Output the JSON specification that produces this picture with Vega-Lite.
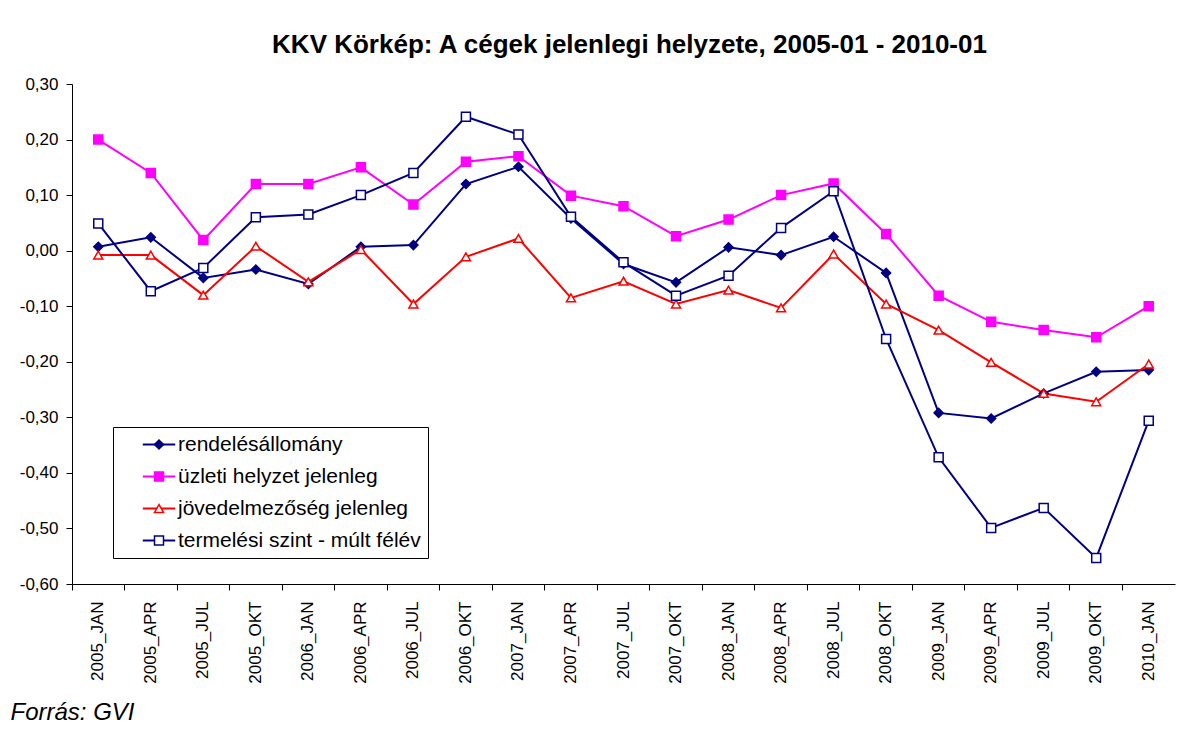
{
  "$schema": "https://vega.github.io/schema/vega-lite/v6.json",
  "width": 1103,
  "height": 500,
  "autosize": {"type": "none"},
  "padding": {"left": 72, "top": 84, "right": 21, "bottom": 147},
  "background": "white",
  "config": {
    "font": "Liberation Sans",
    "view": {"stroke": null},
    "locale": {"number": {"decimal": ",", "thousands": " ", "grouping": [3], "currency": ["", ""], "minus": "-"}}
  },
  "title": {
    "text": "KKV Körkép: A cégek jelenlegi helyzete, 2005-01 - 2010-01",
    "font": "Liberation Sans",
    "fontSize": 26,
    "fontWeight": "bold",
    "color": "black",
    "anchor": "middle",
    "dx": 6,
    "offset": 17
  },
  "data": {
    "values": [
      {"p": "2005_JAN", "s": "rendelésállomány", "v": 0.007},
      {"p": "2005_APR", "s": "rendelésállomány", "v": 0.024},
      {"p": "2005_JUL", "s": "rendelésállomány", "v": -0.049},
      {"p": "2005_OKT", "s": "rendelésállomány", "v": -0.034},
      {"p": "2006_JAN", "s": "rendelésállomány", "v": -0.060},
      {"p": "2006_APR", "s": "rendelésállomány", "v": 0.007},
      {"p": "2006_JUL", "s": "rendelésállomány", "v": 0.010},
      {"p": "2006_OKT", "s": "rendelésállomány", "v": 0.120},
      {"p": "2007_JAN", "s": "rendelésállomány", "v": 0.151},
      {"p": "2007_APR", "s": "rendelésállomány", "v": 0.058},
      {"p": "2007_JUL", "s": "rendelésállomány", "v": -0.024},
      {"p": "2007_OKT", "s": "rendelésállomány", "v": -0.057},
      {"p": "2008_JAN", "s": "rendelésállomány", "v": 0.006},
      {"p": "2008_APR", "s": "rendelésállomány", "v": -0.008},
      {"p": "2008_JUL", "s": "rendelésállomány", "v": 0.025},
      {"p": "2008_OKT", "s": "rendelésállomány", "v": -0.040},
      {"p": "2009_JAN", "s": "rendelésállomány", "v": -0.292},
      {"p": "2009_APR", "s": "rendelésállomány", "v": -0.302},
      {"p": "2009_JUL", "s": "rendelésállomány", "v": -0.257},
      {"p": "2009_OKT", "s": "rendelésállomány", "v": -0.218},
      {"p": "2010_JAN", "s": "rendelésállomány", "v": -0.215},
      {"p": "2005_JAN", "s": "üzleti helyzet jelenleg", "v": 0.200},
      {"p": "2005_APR", "s": "üzleti helyzet jelenleg", "v": 0.140},
      {"p": "2005_JUL", "s": "üzleti helyzet jelenleg", "v": 0.019},
      {"p": "2005_OKT", "s": "üzleti helyzet jelenleg", "v": 0.120},
      {"p": "2006_JAN", "s": "üzleti helyzet jelenleg", "v": 0.120},
      {"p": "2006_APR", "s": "üzleti helyzet jelenleg", "v": 0.150},
      {"p": "2006_JUL", "s": "üzleti helyzet jelenleg", "v": 0.083},
      {"p": "2006_OKT", "s": "üzleti helyzet jelenleg", "v": 0.160},
      {"p": "2007_JAN", "s": "üzleti helyzet jelenleg", "v": 0.170},
      {"p": "2007_APR", "s": "üzleti helyzet jelenleg", "v": 0.099},
      {"p": "2007_JUL", "s": "üzleti helyzet jelenleg", "v": 0.080},
      {"p": "2007_OKT", "s": "üzleti helyzet jelenleg", "v": 0.026},
      {"p": "2008_JAN", "s": "üzleti helyzet jelenleg", "v": 0.056},
      {"p": "2008_APR", "s": "üzleti helyzet jelenleg", "v": 0.100},
      {"p": "2008_JUL", "s": "üzleti helyzet jelenleg", "v": 0.121},
      {"p": "2008_OKT", "s": "üzleti helyzet jelenleg", "v": 0.030},
      {"p": "2009_JAN", "s": "üzleti helyzet jelenleg", "v": -0.081},
      {"p": "2009_APR", "s": "üzleti helyzet jelenleg", "v": -0.128},
      {"p": "2009_JUL", "s": "üzleti helyzet jelenleg", "v": -0.143},
      {"p": "2009_OKT", "s": "üzleti helyzet jelenleg", "v": -0.156},
      {"p": "2010_JAN", "s": "üzleti helyzet jelenleg", "v": -0.100},
      {"p": "2005_JAN", "s": "jövedelmezőség jelenleg", "v": -0.008},
      {"p": "2005_APR", "s": "jövedelmezőség jelenleg", "v": -0.008},
      {"p": "2005_JUL", "s": "jövedelmezőség jelenleg", "v": -0.080},
      {"p": "2005_OKT", "s": "jövedelmezőség jelenleg", "v": 0.008},
      {"p": "2006_JAN", "s": "jövedelmezőség jelenleg", "v": -0.056},
      {"p": "2006_APR", "s": "jövedelmezőség jelenleg", "v": 0.002},
      {"p": "2006_JUL", "s": "jövedelmezőség jelenleg", "v": -0.096},
      {"p": "2006_OKT", "s": "jövedelmezőség jelenleg", "v": -0.011},
      {"p": "2007_JAN", "s": "jövedelmezőség jelenleg", "v": 0.022},
      {"p": "2007_APR", "s": "jövedelmezőség jelenleg", "v": -0.085},
      {"p": "2007_JUL", "s": "jövedelmezőség jelenleg", "v": -0.055},
      {"p": "2007_OKT", "s": "jövedelmezőség jelenleg", "v": -0.096},
      {"p": "2008_JAN", "s": "jövedelmezőség jelenleg", "v": -0.071},
      {"p": "2008_APR", "s": "jövedelmezőség jelenleg", "v": -0.103},
      {"p": "2008_JUL", "s": "jövedelmezőség jelenleg", "v": -0.006},
      {"p": "2008_OKT", "s": "jövedelmezőség jelenleg", "v": -0.096},
      {"p": "2009_JAN", "s": "jövedelmezőség jelenleg", "v": -0.143},
      {"p": "2009_APR", "s": "jövedelmezőség jelenleg", "v": -0.201},
      {"p": "2009_JUL", "s": "jövedelmezőség jelenleg", "v": -0.257},
      {"p": "2009_OKT", "s": "jövedelmezőség jelenleg", "v": -0.272},
      {"p": "2010_JAN", "s": "jövedelmezőség jelenleg", "v": -0.204},
      {"p": "2005_JAN", "s": "termelési szint - múlt félév", "v": 0.049},
      {"p": "2005_APR", "s": "termelési szint - múlt félév", "v": -0.073},
      {"p": "2005_JUL", "s": "termelési szint - múlt félév", "v": -0.031},
      {"p": "2005_OKT", "s": "termelési szint - múlt félév", "v": 0.060},
      {"p": "2006_JAN", "s": "termelési szint - múlt félév", "v": 0.065},
      {"p": "2006_APR", "s": "termelési szint - múlt félév", "v": 0.100},
      {"p": "2006_JUL", "s": "termelési szint - múlt félév", "v": 0.140},
      {"p": "2006_OKT", "s": "termelési szint - múlt félév", "v": 0.241},
      {"p": "2007_JAN", "s": "termelési szint - múlt félév", "v": 0.209},
      {"p": "2007_APR", "s": "termelési szint - múlt félév", "v": 0.061},
      {"p": "2007_JUL", "s": "termelési szint - múlt félév", "v": -0.021},
      {"p": "2007_OKT", "s": "termelési szint - múlt félév", "v": -0.081},
      {"p": "2008_JAN", "s": "termelési szint - múlt félév", "v": -0.045},
      {"p": "2008_APR", "s": "termelési szint - múlt félév", "v": 0.041},
      {"p": "2008_JUL", "s": "termelési szint - múlt félév", "v": 0.107},
      {"p": "2008_OKT", "s": "termelési szint - múlt félév", "v": -0.159},
      {"p": "2009_JAN", "s": "termelési szint - múlt félév", "v": -0.372},
      {"p": "2009_APR", "s": "termelési szint - múlt félév", "v": -0.499},
      {"p": "2009_JUL", "s": "termelési szint - múlt félév", "v": -0.463},
      {"p": "2009_OKT", "s": "termelési szint - múlt félév", "v": -0.553},
      {"p": "2010_JAN", "s": "termelési szint - múlt félév", "v": -0.306}
    ]
  },
  "resolve": {"axis": {"x": "independent"}},
  "layer": [
    {
      "mark": {"type": "line", "strokeWidth": 2},
      "encoding": {
        "x": {
          "field": "p", "type": "ordinal", "sort": null,
          "scale": {"type": "band", "paddingInner": 0, "paddingOuter": 0},
          "axis": {
            "orient": "bottom", "ticks": false, "domain": false, "tickSize": 0,
            "labelAngle": -90, "labelAlign": "right", "labelBaseline": "middle",
            "labelFontSize": 17, "labelColor": "black", "labelPadding": 17,
            "title": "Forrás: GVI", "titleFontStyle": "italic", "titleFontWeight": "normal",
            "titleFontSize": 24, "titleColor": "black", "titleAlign": "left",
            "titleAnchor": "start", "titleBaseline": "middle", "titleX": -62, "titleY": 128,
            "grid": false
          }
        },
        "y": {
          "field": "v", "type": "quantitative",
          "scale": {"domain": [-0.6, 0.3], "nice": false, "zero": false},
          "axis": {
            "values": [-0.6, -0.5, -0.4, -0.3, -0.2, -0.1, 0, 0.1, 0.2, 0.3],
            "format": ".2f", "title": null, "grid": false,
            "labelFontSize": 17, "labelColor": "black", "labelPadding": 8,
            "tickSize": 6, "tickColor": "black", "domainColor": "black"
          }
        },
        "color": {
          "field": "s", "type": "nominal",
          "scale": {
            "domain": ["rendelésállomány", "üzleti helyzet jelenleg", "jövedelmezőség jelenleg", "termelési szint - múlt félév"],
            "range": ["#000080", "#FF00FF", "#FF0000", "#000080"]
          },
          "legend": {
            "orient": "none", "legendX": 41, "legendY": 343, "title": null,
            "strokeColor": "black", "fillColor": "white", "padding": 7,
            "symbolType": "M-3.6,0H3.6", "symbolSize": 81, "symbolStrokeWidth": 2,
            "symbolOffset": 28.5, "labelOffset": 8.5,
            "labelFontSize": 21, "labelColor": "black", "labelLimit": 0,
            "rowPadding": 10, "zindex": 0
          }
        }
      }
    },
    {
      "mark": {"type": "point", "size": 81, "strokeWidth": 1.5, "opacity": 1},
      "encoding": {
        "x": {
          "field": "p", "type": "ordinal", "sort": null,
          "scale": {"type": "band", "paddingInner": 0, "paddingOuter": 0},
          "axis": {
            "orient": "bottom", "bandPosition": 0, "labels": false, "ticks": true,
            "tickSize": 6, "tickColor": "black", "domain": true, "domainColor": "black",
            "title": null, "grid": false
          }
        },
        "y": {"field": "v", "type": "quantitative"},
        "stroke": {
          "field": "s", "type": "nominal",
          "scale": {
            "domain": ["rendelésállomány", "üzleti helyzet jelenleg", "jövedelmezőség jelenleg", "termelési szint - múlt félév", "_"],
            "range": ["#000080", "#FF00FF", "#FF0000", "#000080", "#000000"]
          },
          "legend": {
            "orient": "none", "legendX": 41, "legendY": 343, "title": null,
            "values": ["rendelésállomány", "üzleti helyzet jelenleg", "jövedelmezőség jelenleg", "termelési szint - múlt félév"],
            "padding": 7, "symbolSize": 81, "symbolStrokeWidth": 1.5,
            "symbolOffset": 28.5, "labelOffset": 8.5,
            "labelFontSize": 21, "labelOpacity": 0, "labelLimit": 0,
            "rowPadding": 10, "zindex": 1
          }
        },
        "fill": {
          "field": "s", "type": "nominal",
          "scale": {
            "domain": ["rendelésállomány", "üzleti helyzet jelenleg", "jövedelmezőség jelenleg", "termelési szint - múlt félév", "_"],
            "range": ["#000080", "#FF00FF", "#FFFFFF", "#FFFFFF", "#000000"]
          },
          "legend": {
            "orient": "none", "legendX": 41, "legendY": 343, "title": null,
            "values": ["rendelésállomány", "üzleti helyzet jelenleg", "jövedelmezőség jelenleg", "termelési szint - múlt félév"],
            "padding": 7, "symbolSize": 81, "symbolStrokeWidth": 1.5,
            "symbolOffset": 28.5, "labelOffset": 8.5,
            "labelFontSize": 21, "labelOpacity": 0, "labelLimit": 0,
            "rowPadding": 10, "zindex": 1
          }
        },
        "shape": {
          "field": "s", "type": "nominal",
          "scale": {
            "domain": ["rendelésállomány", "üzleti helyzet jelenleg", "jövedelmezőség jelenleg", "termelési szint - múlt félév", "_"],
            "range": ["diamond", "square", "triangle-up", "square", "circle"]
          },
          "legend": {
            "orient": "none", "legendX": 41, "legendY": 343, "title": null,
            "values": ["rendelésállomány", "üzleti helyzet jelenleg", "jövedelmezőség jelenleg", "termelési szint - múlt félév"],
            "padding": 7, "symbolSize": 81, "symbolStrokeWidth": 1.5,
            "symbolOffset": 28.5, "labelOffset": 8.5,
            "labelFontSize": 21, "labelOpacity": 0, "labelLimit": 0,
            "rowPadding": 10, "zindex": 1
          }
        }
      }
    }
  ]
}
